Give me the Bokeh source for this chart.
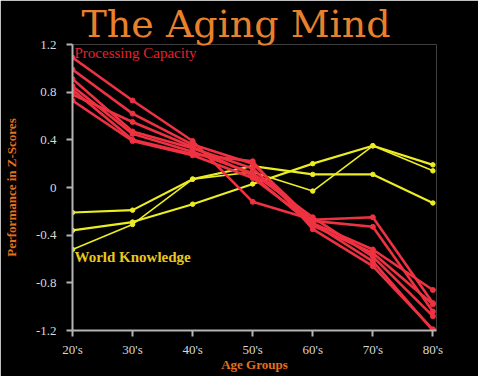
from bokeh.plotting import figure
from bokeh.models import Range1d, FixedTicker, Label
from bokeh.embed import file_html
from bokeh.resources import INLINE

ages = ["20's", "30's", "40's", "50's", "60's", "70's", "80's"]
xpos = [0, 1, 2, 3, 4, 5, 6]

# Processing Capacity (red) series
proc_1 = [1.09, 0.73, 0.39, -0.12, -0.27, -0.25, -0.97]
proc_2 = [0.99, 0.62, 0.36, 0.20, -0.28, -0.33, -1.04]
proc_3 = [0.91, 0.47, 0.33, 0.16, -0.30, -0.52, -0.86]
proc_4 = [0.85, 0.45, 0.30, 0.12, -0.25, -0.58, -1.08]
proc_5 = [0.82, 0.40, 0.28, 0.22, -0.35, -0.66, -1.19]
proc_6 = [0.78, 0.55, 0.34, 0.10, -0.32, -0.55, -0.98]
proc_7 = [0.73, 0.39, 0.27, 0.08, -0.30, -0.62, -1.20]
processing = [proc_1, proc_2, proc_3, proc_4, proc_5, proc_6, proc_7]

# World Knowledge (yellow) series
know_1 = [-0.21, -0.19, 0.07, 0.18, 0.11, 0.11, -0.13]
know_2 = [-0.36, -0.29, -0.14, 0.03, 0.20, 0.35, 0.19]
know_3 = [-0.52, -0.31, 0.07, 0.13, -0.03, 0.35, 0.14]
knowledge = [know_1, know_2, know_3]

y_ticks = [-1.2, -0.8, -0.4, 0, 0.4, 0.8, 1.2]
y_tick_labels = ["-1.2", "-0.8", "-0.4", "0", "0.4", "0.8", "1.2"]

RED = "#EE3242"
YEL = "#ECEC22"
ORANGE = "#E2701E"
GRAY = "#B4B4B4"

p = figure(width=478, height=376, output_backend="svg", toolbar_location=None,
           x_range=Range1d(0, 6.06), y_range=Range1d(-1.2, 1.2),
           min_border_left=62, min_border_right=42, min_border_top=0, min_border_bottom=46,
           title="The Aging Mind")
p.title.align = "left"
p.title.offset = 9
p.title.text_font = "DejaVu Serif"
p.title.text_font_size = "38px"
p.title.text_font_style = "normal"
p.title.text_color = "#E8802C"
p.title.standoff = -2
p.background_fill_color = "black"
p.border_fill_color = "black"
p.outline_line_color = None
p.xgrid.visible = False
p.ygrid.visible = False

for i, ys in enumerate(knowledge):
    p.line(xpos, ys, line_color=YEL, line_width=1.6 if i == 2 else 2.2)
    p.scatter(xpos, ys, size=4.5, color=YEL)

for ys in processing:
    p.line(xpos, ys, line_color=RED, line_width=2.6)
    p.scatter(xpos, ys, size=5, color=RED)

# axes
p.xaxis.ticker = FixedTicker(ticks=xpos)
p.xaxis.major_label_overrides = {x: a for x, a in zip(xpos, ages)}
p.yaxis.ticker = FixedTicker(ticks=y_ticks)
p.yaxis.major_label_overrides = {t: l for t, l in zip(y_ticks, y_tick_labels)}
for ax in (p.xaxis[0], p.yaxis[0]):
    ax.axis_line_color = GRAY
    ax.axis_line_width = 2
    ax.major_tick_line_color = GRAY
    ax.major_tick_line_width = 2
    ax.major_tick_out = 6
    ax.major_tick_in = 0
    ax.minor_tick_line_color = None
    ax.major_label_text_color = "#D8D8D8"
    ax.major_label_text_font = "Liberation Serif"
    ax.major_label_text_font_size = "13px"
    ax.axis_label_text_color = ORANGE
    ax.axis_label_text_font = "Liberation Serif"
    ax.axis_label_text_font_style = "bold"
    ax.axis_label_text_font_size = "13px"

p.xaxis.axis_label = "Age Groups"
p.xaxis.major_label_standoff = 5
p.xaxis.axis_label_standoff = -3
p.yaxis.axis_label = "Performance in Z-Scores"
p.yaxis.major_label_standoff = 10
p.yaxis.axis_label_standoff = 14

p.add_layout(Label(x=0.05, y=1.13, x_offset=-1, text="Processing Capacity", text_align="left",
                   text_baseline="alphabetic", text_color="#E8202E",
                   text_font="Liberation Serif", text_font_size="15px"))
p.add_layout(Label(x=0.05, y=-0.58, x_offset=-1, text="World Knowledge", text_align="left",
                   text_baseline="alphabetic", text_color="#E8C81A",
                   text_font="Liberation Serif", text_font_style="bold",
                   text_font_size="15px"))

open("out.html", "w").write(file_html(p, INLINE))
